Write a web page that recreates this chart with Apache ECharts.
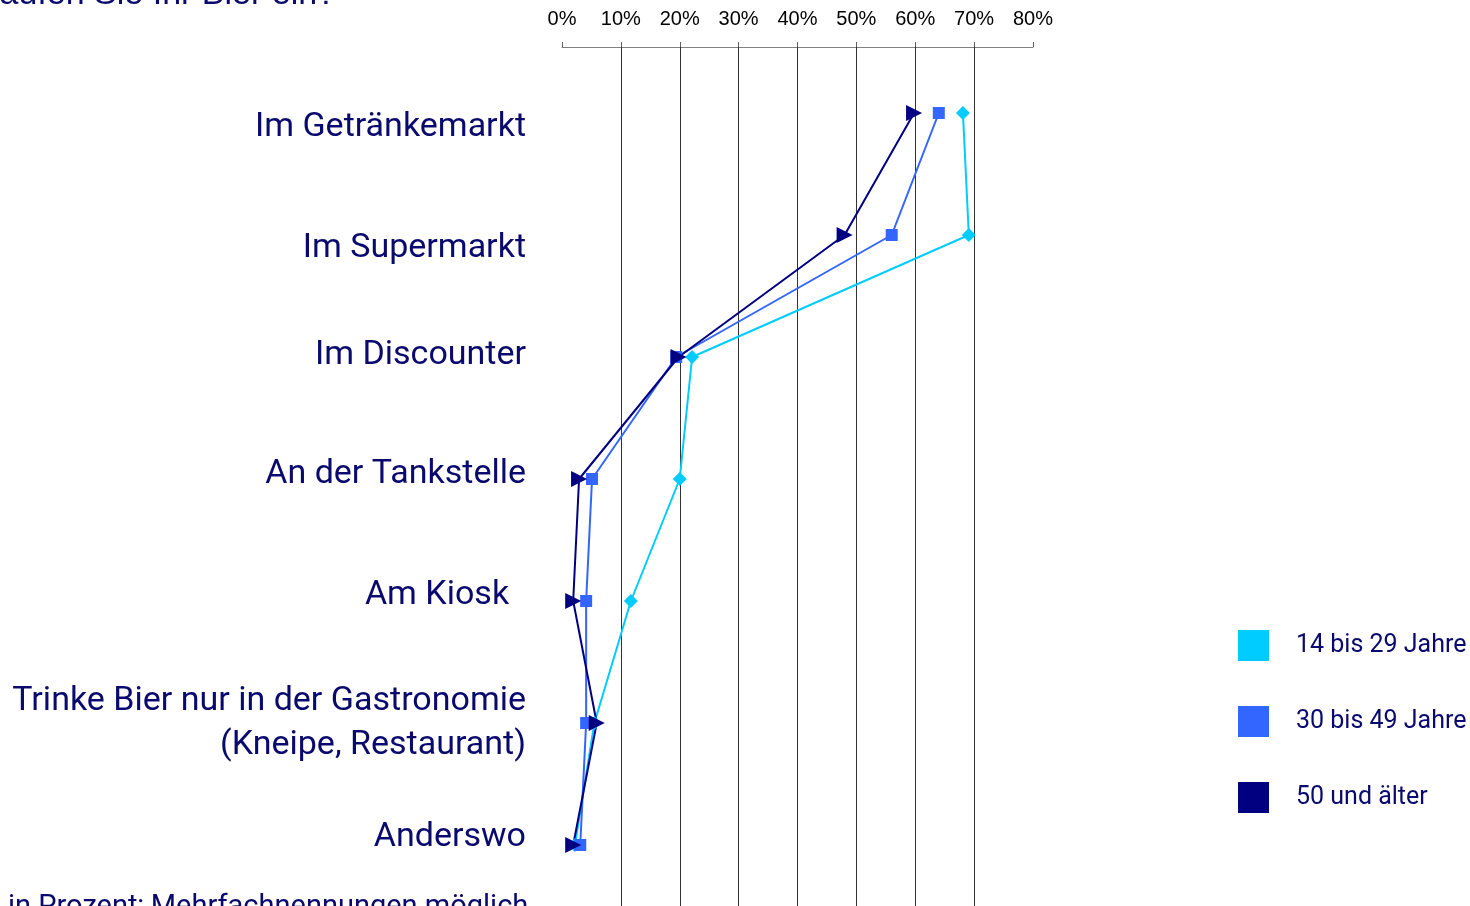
<!DOCTYPE html>
<html>
<head>
<meta charset="utf-8">
<title>Wo kaufen Sie Ihr Bier ein?</title>
<script src="https://cdn.jsdelivr.net/npm/echarts@6/dist/echarts.min.js"></script>
<style>
  html, body { margin: 0; padding: 0; background: #fff; }
  #chart { width: 1470px; height: 906px; }
</style>
</head>
<body>
<div id="chart"></div>
<script>
// Einkaufsorte (von oben nach unten)
var orte = [
    'Im Getränkemarkt',
    'Im Supermarkt',
    'Im Discounter',
    'An der Tankstelle',
    'Am Kiosk  ',
    'Trinke Bier nur in der Gastronomie\n(Kneipe, Restaurant)',
    'Anderswo'
];

// Anteile in Prozent je Altersgruppe
var jung   = [68.1, 69.1, 22.1, 20.0, 11.7, 5.5, 2.2];   // 14 bis 29 Jahre
var mitte  = [64.0, 56.0, 19.4, 5.1, 4.1, 4.1, 3.1];     // 30 bis 49 Jahre
var aelter = [59.8, 48.0, 19.8, 2.9, 1.9, 5.9, 1.9];     // 50 und älter

var gruppen = ['14 bis 29 Jahre', '30 bis 49 Jahre', '50 und älter'];
var farben  = ['#00CCFF', '#3366FF', '#000080'];

var navy = '#0a0a6e';

// die Beschriftungen sitzen im Original nicht genau auf Zeilenmitte (px, + = tiefer)
var labelVersatz = [14, 13, -2, -5, -6, 0, -8];
var labelRich = {};
labelVersatz.forEach(function (d, i) {
    labelRich['r' + i] = {
        fontFamily: 'Roboto',
        fontSize: 34,
        color: navy,
        padding: d > 0 ? [2 * d, 0, 0, 0] : [0, 0, -2 * d, 0]
    };
});

var chart = echarts.init(document.getElementById('chart'));
chart.setOption({
    animation: false,
    backgroundColor: '#fff',
    color: farben,
    grid: { left: 562, right: 437, top: 52, bottom: 0 },
    legend: {
        data: gruppen,
        orient: 'vertical',
        left: 1238,
        top: 630,
        padding: 0,
        icon: 'rect',
        itemWidth: 31,
        itemHeight: 31,
        itemGap: 45,
        textStyle: {
            fontFamily: 'Roboto',
            fontSize: 25,
            color: navy,
            padding: [0, 0, 0, 22]
        }
    },
    xAxis: [{
        type: 'value',
        position: 'top',
        offset: 5,
        min: 0,
        max: 80,
        interval: 10,
        axisLine: { show: true, lineStyle: { color: '#808080', width: 1 } },
        axisTick: { show: true, length: 5, lineStyle: { color: '#606060' } },
        axisLabel: {
            margin: 18,
            formatter: '{value}%',
            fontFamily: 'Liberation Sans',
            fontSize: 20,
            color: '#000'
        },
        splitLine: {
            show: true,
            showMinLine: false,
            showMaxLine: false,
            lineStyle: { color: '#333', width: 1 }
        }
    }, {
        // kurze Verlängerung der Gitterlinien bis zur Achse
        type: 'value',
        position: 'top',
        offset: 5,
        min: 0,
        max: 80,
        interval: 10,
        axisLine: { show: false },
        axisLabel: { show: false },
        splitLine: { show: false },
        axisTick: {
            show: true,
            inside: true,
            length: 6,
            customValues: [10, 20, 30, 40, 50, 60, 70],
            lineStyle: { color: '#333' }
        }
    }],
    yAxis: {
        type: 'category',
        data: orte,
        inverse: true,
        axisLine: { show: false },
        axisTick: { show: false },
        splitLine: { show: false },
        axisLabel: {
            margin: 36,
            fontFamily: 'Roboto',
            fontSize: 34,
            lineHeight: 44,
            color: navy,
            align: 'right',
            formatter: function (value, index) {
                if (value.indexOf('\n') >= 0 || !labelVersatz[index]) return value;
                return '{r' + index + '|' + value + '}';
            },
            rich: labelRich
        }
    },
    series: [{
        name: gruppen[0],
        type: 'line',
        data: jung,
        symbol: 'diamond',
        symbolSize: 14,
        lineStyle: { width: 2, color: farben[0] },
        itemStyle: { color: farben[0] }
    }, {
        name: gruppen[1],
        type: 'line',
        data: mitte,
        symbol: 'rect',
        symbolSize: 12,
        lineStyle: { width: 2, color: farben[1] },
        itemStyle: { color: farben[1] }
    }, {
        name: gruppen[2],
        type: 'line',
        data: aelter,
        symbol: 'triangle',
        symbolRotate: -90,
        symbolSize: 16,
        lineStyle: { width: 2, color: farben[2] },
        itemStyle: { color: farben[2] }
    }],
    graphic: [{
        type: 'text',
        style: {
            text: 'Wo kaufen Sie Ihr Bier ein?',
            x: 336,
            y: -5,
            align: 'right',
            verticalAlign: 'middle',
            font: '34px "Liberation Sans"',
            fill: navy
        }
    }, {
        type: 'text',
        style: {
            text: 'in Prozent; Mehrfachnennungen möglich',
            x: 8,
            y: 908,
            align: 'left',
            verticalAlign: 'middle',
            font: '29px Roboto',
            fill: navy
        }
    }]
});
</script>
</body>
</html>
